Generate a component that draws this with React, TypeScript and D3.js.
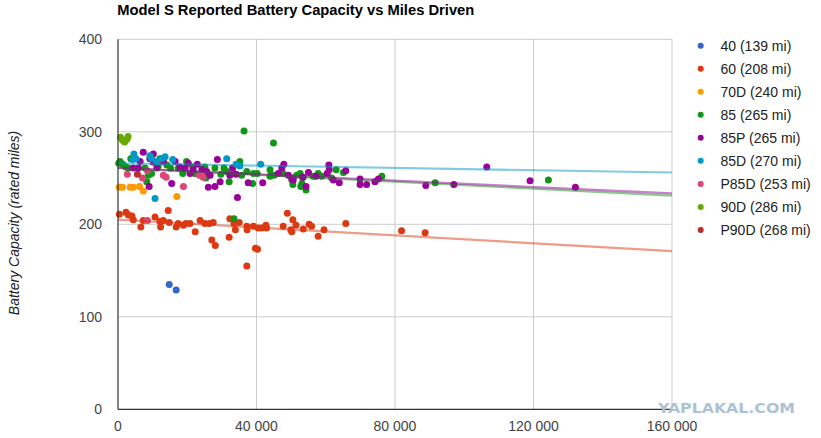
import React from "react";
import * as d3 from "d3";

const W = 821;
const H = 438;

const seriesNames = ["40 (139 mi)", "60 (208 mi)", "70D (240 mi)", "85 (265 mi)", "85P (265 mi)", "85D (270 mi)", "P85D (253 mi)", "90D (286 mi)", "P90D (268 mi)"];
const seriesColors = ["#3366cc", "#dc3912", "#ff9900", "#109618", "#990099", "#0099c6", "#dd4477", "#66aa00", "#b82e2e"];

const xTicks = [0, 40000, 80000, 120000, 160000];
const yTicks = [0, 100, 200, 300, 400];

const s40: [number, number][] = [[14800, 135], [16800, 129]];

const s60: [number, number][] = [
  [400, 211], [2300, 213], [3000, 210], [4000, 209], [4400, 205], [6600, 197], [7300, 204],
  [10700, 208], [12100, 203], [12300, 197], [13100, 204], [14500, 215], [14800, 202], [16800, 197],
  [17400, 201], [18900, 199], [19600, 201], [20800, 201], [22300, 192], [23700, 204], [25100, 201],
  [26400, 201], [27500, 202], [27100, 183], [28100, 177], [32300, 206], [32100, 186], [33500, 201],
  [33900, 194], [35000, 202], [37200, 198], [37300, 194], [37200, 155], [39100, 198], [39700, 174],
  [40300, 173], [40500, 196], [41500, 196], [42700, 199], [42900, 196], [47700, 198], [48900, 212],
  [50500, 205], [50200, 192], [49900, 194], [51400, 199], [53500, 195], [55200, 200], [55900, 198],
  [57800, 187], [59500, 194], [65800, 201], [81900, 193], [88700, 191],
];

const s70D: [number, number][] = [[300, 240], [1300, 240], [3500, 240], [4400, 240], [6200, 241], [7300, 236], [17000, 230]];

const s85: [number, number][] = [
  [200, 266], [600, 268], [1400, 265], [2300, 262], [3000, 261], [3700, 271], [4400, 272], [7800, 261],
  [8800, 253], [9700, 255], [11600, 263], [14100, 264], [15200, 261], [17400, 261], [18700, 255],
  [19800, 268], [21600, 262], [22200, 255], [25100, 262], [26100, 253], [12100, 271], [8300, 246],
  [36400, 301], [44900, 288], [24600, 261], [25400, 250], [28000, 261], [29700, 254], [30600, 261],
  [31400, 257], [32100, 246], [33300, 255], [35200, 268], [35700, 253], [37200, 257], [39100, 255],
  [40200, 255], [38900, 244], [43900, 259], [45100, 253], [47700, 255], [50200, 248], [50500, 243],
  [51600, 253], [43900, 252], [52600, 255], [53100, 244], [52800, 241], [54300, 237], [53500, 251],
  [56400, 252], [57800, 255], [58800, 252], [61700, 250], [63000, 259], [65100, 256], [76200, 252],
  [91600, 245], [124300, 248], [33500, 206],
];

const s85P: [number, number][] = [
  [7300, 278], [6400, 268], [5900, 261], [9200, 271], [10200, 267], [11200, 261], [15500, 244],
  [9000, 241], [16500, 268], [17900, 262], [19400, 261], [20300, 266], [20800, 255], [21700, 259],
  [22900, 265], [24200, 259], [25600, 257], [26100, 240], [4400, 261], [13100, 268], [10200, 276],
  [28700, 270], [28000, 241], [26600, 253], [29500, 246], [32300, 253], [33100, 261], [34100, 254],
  [34500, 229], [37600, 245], [41800, 245], [46300, 255], [47300, 261], [47900, 265], [49200, 253],
  [50200, 250], [50600, 248], [53300, 251], [54300, 241], [55000, 256], [57200, 252], [60400, 255],
  [60900, 264], [61000, 259], [62200, 248], [63900, 245], [65800, 258], [69900, 249], [69900, 243],
  [71800, 243], [74200, 246], [75200, 249], [88900, 242], [97000, 243], [106500, 262], [119000, 247],
  [132100, 240],
];

const s85D: [number, number][] = [
  [4600, 276], [5200, 271], [9200, 274], [9700, 271], [11200, 268], [12600, 271], [13600, 273],
  [15800, 270], [10700, 228], [4200, 270], [31400, 271], [34100, 265], [35200, 263], [41200, 265],
];

const sP85D: [number, number][] = [
  [2700, 254], [7100, 250], [8500, 258], [13100, 253], [13900, 251], [18900, 241], [23500, 253],
  [24600, 251], [8500, 204],
];

const s90D: [number, number][] = [[700, 294], [1300, 291], [1900, 289], [2600, 292], [2900, 295]];

const sP90D: [number, number][] = [[5600, 254]];

const seriesData = [s40, s60, s70D, s85, s85P, s85D, sP85D, s90D, sP90D];

// trend lines: [series index, value at 0 mi, value at 160000 mi]
const trendSeries = [1, 3, 4, 5];
const trendStart = [205, 261, 261, 266];
const trendEnd = [171, 231, 233.5, 256];

const margin = { left: 118, right: 149, top: 39.3, bottom: 28.7 };

export default function App() {
  const x = d3.scaleLinear().domain([0, 160000]).range([margin.left, W - margin.right]);
  const y = d3.scaleLinear().domain([0, 400]).range([H - margin.bottom, margin.top]);
  const fmt = (v: number) => d3.format(",")(v).replace(/,/g, " ");
  const font = "Arial, 'Liberation Sans', sans-serif";
  const line = d3.line<[number, number]>().x((d) => x(d[0])).y((d) => y(d[1]));

  return (
    <svg width={W} height={H} style={{ position: "absolute", left: 0, top: 0, background: "#fff" }} fontFamily={font}>
      <rect x={0} y={0} width={W} height={H} fill="#fff" />
      <text x={117.3} y={15} fontSize={14} fontWeight="bold" fill="#000" textLength={357} lengthAdjust="spacingAndGlyphs">Model S Reported Battery Capacity vs Miles Driven</text>
      {yTicks.filter((t) => t > 0).map((t) => (
        <line key={"gy" + t} x1={x(0)} x2={x(160000)} y1={y(t)} y2={y(t)} stroke="#cccccc" strokeWidth={1} />
      ))}
      {xTicks.filter((t) => t > 0).map((t) => (
        <line key={"gx" + t} x1={x(t)} x2={x(t)} y1={y(0)} y2={y(400)} stroke="#cccccc" strokeWidth={1} />
      ))}
      {yTicks.map((t) => (
        <text key={"ty" + t} x={102} y={y(t)} dy="0.35em" textAnchor="end" fontSize={14} fill="#444">{t}</text>
      ))}
      {xTicks.map((t) => (
        <text key={"tx" + t} x={x(t)} y={431} textAnchor="middle" fontSize={14} fill="#444">{fmt(t)}</text>
      ))}
      <text transform={`translate(19,223) rotate(-90)`} textAnchor="middle" fontSize={14} fontStyle="italic" fill="#222">Battery Capacity (rated miles)</text>
      {seriesData.map((data, si) => (
        <g key={"s" + si} fill={seriesColors[si]}>
          {data.map((d, i) => (
            <circle key={i} cx={x(d[0])} cy={y(d[1])} r={3.5} />
          ))}
        </g>
      ))}
      {trendSeries.map((si, i) => (
        <path key={"tr" + si} d={line([[0, trendStart[i]], [160000, trendEnd[i]]]) || ""} stroke={seriesColors[si]} strokeOpacity={0.5} strokeWidth={2.2} fill="none" />
      ))}
      <line x1={x(0)} x2={x(0)} y1={y(0)} y2={y(400)} stroke="#333" strokeWidth={1.2} />
      <line x1={x(0)} x2={x(160000)} y1={y(0)} y2={y(0)} stroke="#333" strokeWidth={1.2} />
      {seriesNames.map((n, i) => (
        <g key={"lg" + i} transform={`translate(0,${45.7 + i * 23.03})`}>
          <circle cx={700.7} cy={0} r={3} fill={seriesColors[i]} />
          <text x={720.5} y={0} dy="0.35em" fontSize={14} fill="#222">{n}</text>
        </g>
      ))}
      <text x={658} y={413} fontSize={14} fontWeight={900} fill="#adc2d4" textLength={137} lengthAdjust="spacingAndGlyphs" fontFamily="'DejaVu Sans', Arial, sans-serif">YAPLAKAL.COM</text>
    </svg>
  );
}
